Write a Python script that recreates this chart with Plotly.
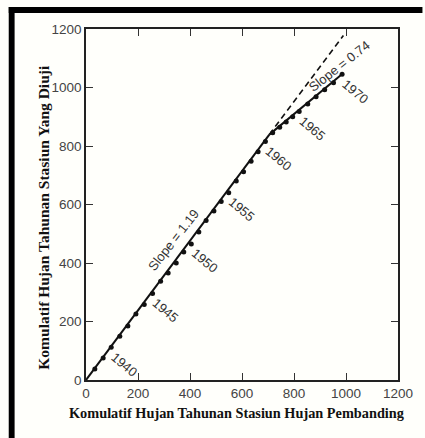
import plotly.graph_objects as go

# ---- data ----
years = list(range(1938, 1971))
cum_ref = [34, 66, 97, 130, 161, 192, 224, 256, 287, 316, 347, 376, 405, 434, 462,
           492, 520, 549, 578, 606, 635, 662, 690, 718, 745, 770, 795, 820, 853,
           885, 918, 952, 985]
cum_test = [38, 75, 112, 150, 185, 226, 258, 296, 338, 366, 400, 438, 465, 506, 545,
            578, 610, 640, 680, 712, 748, 780, 815, 845, 864, 882, 900, 918, 944,
            968, 992, 1016, 1045]
label_years = [1940, 1945, 1950, 1955, 1960, 1965, 1970]
slope_early = 1.19
slope_late = 0.74
break_x = 705
end_x = 990
tick_vals = [0, 200, 400, 600, 800, 1000, 1200]
tick_text = ["0", "200", "400", "600", "800", "1000", "1200"]

# ---- figure geometry (pixels) ----
W, H = 425, 438
L, R, T, B = 86, 405, 29, 380
pw, ph = R - L, B - T


def px(x):
    return (x - L) / pw


def py(y):
    return (B - y) / ph


break_y = slope_early * break_x
late_end_y = break_y + slope_late * (end_x - break_x)
dash_end_y = slope_early * end_x

fig = go.Figure()

# fitted lines
fig.add_trace(go.Scatter(x=[0, break_x], y=[0, break_y], mode="lines",
                         line=dict(color="#111", width=2), hoverinfo="skip"))
fig.add_trace(go.Scatter(x=[break_x, end_x], y=[break_y, late_end_y], mode="lines",
                         line=dict(color="#111", width=2), hoverinfo="skip"))
fig.add_trace(go.Scatter(x=[break_x, end_x], y=[break_y, dash_end_y], mode="lines",
                         line=dict(color="#111", width=1.6, dash="6px,4px"),
                         hoverinfo="skip"))
# points
fig.add_trace(go.Scatter(x=cum_ref, y=cum_test, mode="markers", text=years,
                         marker=dict(color="#111", size=5)))

label_font = dict(family="Liberation Sans", size=13, color="#333")
for yr in label_years:
    i = years.index(yr)
    fig.add_annotation(x=cum_ref[i], y=cum_test[i], text=str(yr), showarrow=False,
                       textangle=40, xshift=13, yshift=-17, font=label_font)

sx = 335
fig.add_annotation(x=sx, y=slope_early * sx, text="Slope = 1.19", showarrow=False,
                   textangle=-52, yshift=23, font=label_font)
sx2 = 981
fig.add_annotation(x=sx2, y=break_y + slope_late * (sx2 - break_x), text="Slope = 0.74",
                   showarrow=False, textangle=-38, xshift=-2, yshift=8, font=label_font)

fig.add_annotation(xref="paper", yref="paper", x=px(31), y=py(217),
                   text="<b>Komulatif Hujan Tahunan Stasiun Yang Diuji</b>",
                   textangle=-90, showarrow=False,
                   font=dict(family="Liberation Serif", size=15.5, color="#111"))
fig.add_annotation(xref="paper", yref="paper", x=px(240), y=py(423),
                   text="<b>Komulatif Hujan Tahunan Stasiun Hujan Pembanding</b>",
                   showarrow=False,
                   font=dict(family="Liberation Serif", size=14.3, color="#111"))

# black scan frame
fig.add_shape(type="rect", xref="paper", yref="paper", x0=px(7), x1=px(W + 5),
              y0=py(13), y1=py(7), fillcolor="#000", line_width=0, layer="above")
fig.add_shape(type="rect", xref="paper", yref="paper", x0=px(7), x1=px(13),
              y0=py(H + 5), y1=py(7), fillcolor="#000", line_width=0, layer="above")

axis_common = dict(range=[0, 1200], tickvals=tick_vals, ticktext=tick_text,
                   showgrid=False, zeroline=False, showline=True, mirror="allticks",
                   linecolor="#222", linewidth=1.5, ticks="inside", ticklen=7,
                   tickwidth=1.2, tickcolor="#333",
                   tickfont=dict(family="Liberation Sans", size=13.5, color="#444"),
                   fixedrange=True)
fig.update_xaxes(**axis_common)
fig.update_yaxes(**axis_common)

fig.update_layout(width=W, height=H, margin=dict(l=L, r=W - R, t=T, b=H - B),
                  paper_bgcolor="#fffffb", plot_bgcolor="#fffffb", showlegend=False)

fig.write_html("out.html", config={"displayModeBar": False},
               post_script="document.body.style.margin='0';"
                           "document.body.style.overflow='hidden';")
